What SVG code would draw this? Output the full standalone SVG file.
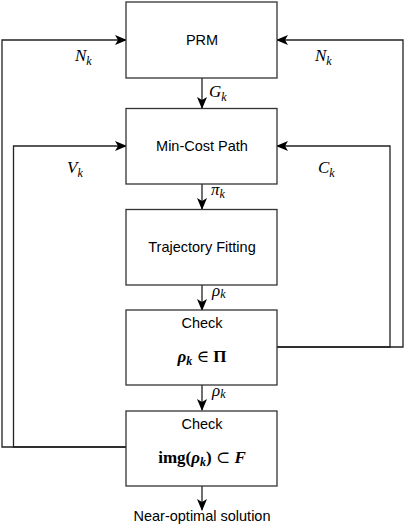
<svg xmlns="http://www.w3.org/2000/svg" width="404" height="524" viewBox="0 0 404 524">
<defs>
<style>
.box{fill:#fff;stroke:#333;stroke-width:1.3}
.lbl{font-family:"Liberation Sans",Arial,sans-serif;font-size:14.5px;fill:#000;text-anchor:middle}
.m{font-family:"Liberation Serif","DejaVu Serif",serif;font-style:italic;font-size:17px;fill:#000}
.ms{font-family:"Liberation Serif","DejaVu Serif",serif;font-style:italic;font-size:12px;fill:#000}
.mb{font-family:"Liberation Serif","DejaVu Serif",serif;font-weight:bold;fill:#000}
.c{fill:none;stroke:#222;stroke-width:1.3}
</style>
<marker id="ah" viewBox="0 0 12 10" refX="11" refY="5" markerWidth="12" markerHeight="10" markerUnits="userSpaceOnUse" orient="auto">
<path d="M0,0 L12,5 L0,10 L3,5 Z" fill="#000"/>
</marker>
</defs>
<g id="connectors">
<path class="c" d="M202,78 V108" marker-end="url(#ah)"/>
<path class="c" d="M202,184 V209" marker-end="url(#ah)"/>
<path class="c" d="M202,285 V310" marker-end="url(#ah)"/>
<path class="c" d="M202,385 V410" marker-end="url(#ah)"/>
<path class="c" d="M202,486 V510" marker-end="url(#ah)"/>
<path class="c" d="M126,447 H2 V40 H126" marker-end="url(#ah)"/>
<path class="c" d="M126,447 H13.5 V146 H126" marker-end="url(#ah)"/>
<path class="c" d="M277,347 H403 V40 H277" marker-end="url(#ah)"/>
<path class="c" d="M277,347 H390 V146 H277" marker-end="url(#ah)"/>
</g>
<g id="labels">
<text x="75" y="61" class="m">N<tspan class="ms" dy="4">k</tspan></text>
<text x="315" y="61" class="m">N<tspan class="ms" dy="4">k</tspan></text>
<text x="209" y="97" class="m">G<tspan class="ms" dy="4">k</tspan></text>
<text x="67" y="173" class="m">V<tspan class="ms" dy="4">k</tspan></text>
<text x="318" y="173" class="m">C<tspan class="ms" dy="4">k</tspan></text>
<text x="211" y="195" class="m" font-size="16">π<tspan class="ms" dy="3">k</tspan></text>
<text x="212" y="296" class="m" font-size="17">ρ<tspan class="ms" dy="2">k</tspan></text>
<text x="212" y="396" class="m" font-size="17">ρ<tspan class="ms" dy="2">k</tspan></text>
</g>
<g id="prm">
<rect class="box" x="126" y="2" width="151" height="76"/>
<text class="lbl" x="202" y="45">PRM</text>
</g>
<g id="mincost">
<rect class="box" x="126" y="108.5" width="151" height="75.5"/>
<text class="lbl" x="202" y="151">Min-Cost Path</text>
</g>
<g id="trajectory">
<rect class="box" x="126" y="209.5" width="151" height="75.5"/>
<text class="lbl" x="202" y="252">Trajectory Fitting</text>
</g>
<g id="check1">
<rect class="box" x="126" y="310" width="151" height="75"/>
<text class="lbl" x="202" y="328">Check</text>
<text x="202" y="362" text-anchor="middle" class="mb" font-size="17"><tspan font-style="italic">ρ</tspan><tspan font-size="12" dy="3" font-style="italic">k</tspan><tspan dy="-3" font-weight="normal"> ∈ </tspan><tspan>Π</tspan></text>
</g>
<g id="check2">
<rect class="box" x="126" y="411" width="151" height="75"/>
<text class="lbl" x="202" y="429">Check</text>
<text x="202" y="463" text-anchor="middle" class="mb" font-size="17">img(<tspan font-style="italic">ρ</tspan><tspan font-size="12" dy="3" font-style="italic">k</tspan><tspan dy="-3">)</tspan><tspan font-weight="normal"> ⊂ </tspan><tspan font-style="italic">F</tspan></text>
</g>
<g id="output">
<text class="lbl" x="202" y="521">Near-optimal solution</text>
</g>
</svg>
